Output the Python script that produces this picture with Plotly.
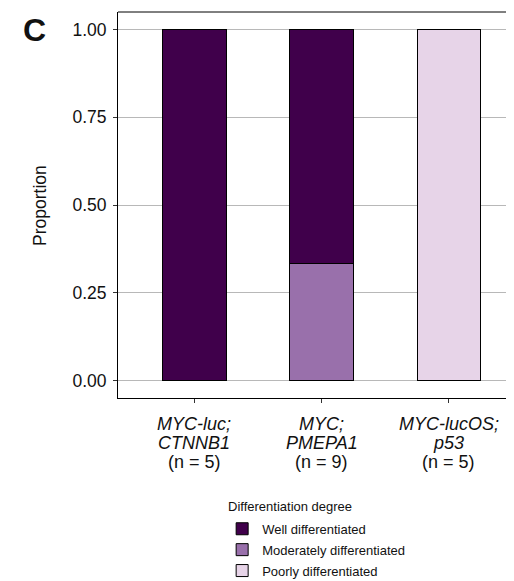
import plotly.graph_objects as go

cat_idx = [0, 1, 2]
label_line1 = ["MYC-luc;", "MYC;", "MYC-lucOS;"]
label_line2 = ["CTNNB1", "PMEPA1", "p53"]
label_n = ["(n = 5)", "(n = 9)", "(n = 5)"]
well = [1.0, 0.667, 0.0]
moderate = [0.0, 0.333, 0.0]
poor = [0.0, 0.0, 1.0]
series_names = ["Poorly differentiated", "Moderately differentiated", "Well differentiated"]
series_vals = [poor, moderate, well]
series_colors = ["#e7d4e8", "#9970ab", "#40004b"]
legend_rank = [3, 2, 1]
ytick_vals = [0, 0.25, 0.5, 0.75, 1.0]
ytick_text = ["0.00", "0.25", "0.50", "0.75", "1.00"]

fig = go.Figure()
for name, vals, col, rk in zip(series_names, series_vals, series_colors, legend_rank):
    fig.add_trace(go.Bar(
        x=cat_idx, y=vals, name=name, width=0.5,
        marker=dict(color=col, line=dict(color="#000000", width=1)),
        legendgroup=name, legendrank=rk,
    ))

font_family = "Liberation Sans, Arial, sans-serif"
annotations = [
    dict(text="Proportion", xref="paper", yref="paper", x=-0.197, y=0.5,
         xanchor="center", yanchor="middle",
         textangle=-90, showarrow=False, font=dict(size=17.5)),
    dict(text="<b>C</b>", xref="paper", yref="paper", x=-0.212, y=0.953,
         xanchor="center", yanchor="middle",
         showarrow=False, font=dict(size=32)),
    dict(text="Differentiation degree", xref="paper", yref="paper", x=0.273, y=-0.282,
         xanchor="left", yanchor="middle", showarrow=False, font=dict(size=13)),
]
for i, l1, l2, n in zip(cat_idx, label_line1, label_line2, label_n):
    for txt, shift in ((f"<i>{l1}</i>", -26), (f"<i>{l2}</i>", -45), (n, -64)):
        annotations.append(dict(text=txt, xref="x", yref="paper", x=i, y=0,
                                yanchor="middle", yshift=shift, showarrow=False,
                                font=dict(size=18)))

fig.update_layout(
    width=506, height=573,
    margin=dict(l=110, r=0, t=4, b=183, autoexpand=False),
    barmode="stack",
    plot_bgcolor="white", paper_bgcolor="white",
    font=dict(family=font_family, color="#111111"),
    showlegend=True,
    legend=dict(
        x=0.263, y=-0.30, xanchor="left", yanchor="top",
        traceorder="grouped", tracegroupgap=1,
        font=dict(size=13),
        itemwidth=30,
    ),
    xaxis=dict(
        range=[-0.6, 2.512], tickmode="array", tickvals=cat_idx, ticktext=["", "", ""],
        showline=True, linecolor="black", linewidth=1, ticks="outside", ticklen=4,
        tickcolor="#333333", showgrid=False, zeroline=False,
    ),
    yaxis=dict(
        range=[-0.05, 1.05], tickmode="array", tickvals=ytick_vals, ticktext=ytick_text,
        showline=True, linecolor="black", linewidth=1, ticks="outside", ticklen=4,
        tickcolor="#333333", showgrid=True, gridcolor="#b8b8b8", gridwidth=1,
        zeroline=False, tickfont=dict(size=17.5, color="#111111"),
        ticklabelstandoff=3,
    ),
    shapes=[dict(type="line", xref="paper", yref="paper", x0=0, x1=1, y0=1, y1=1,
                 line=dict(color="black", width=1))],
    annotations=annotations,
)

fig.write_html("out.html")
